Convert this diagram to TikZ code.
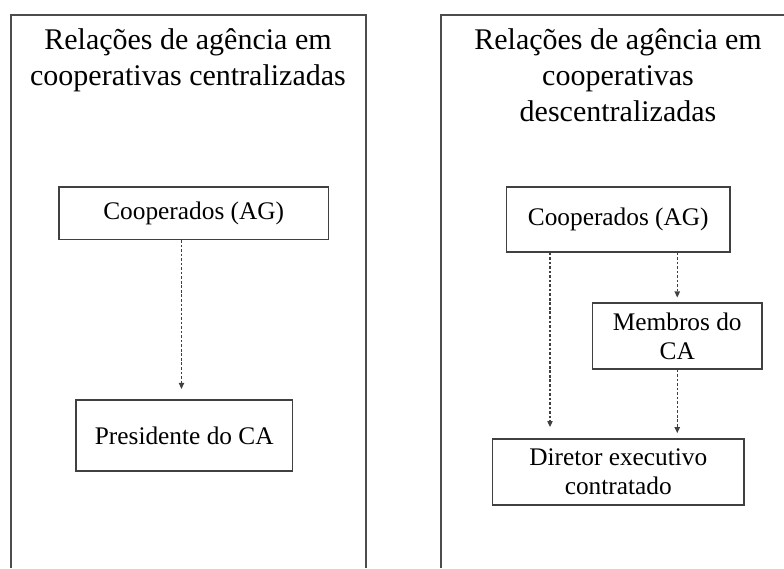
\documentclass[tikz,border=0pt]{standalone}
\usepackage{fontspec}
\setmainfont{Liberation Serif}
\usetikzlibrary{arrows.meta, positioning}

\tikzset{
    panel/.style={draw=black!70, line width=1pt},
    title/.style={anchor=north, inner sep=0pt, align=center,
        font=\fontsize{22.5}{27}\selectfont},
    box/.style={draw=black!75, line width=0.8pt, align=center, inner sep=2pt,
        font=\fontsize{19}{21.75}\selectfont},
    flow/.style={->, draw=black!75, line width=0.8pt, dash pattern=on 2pt off 1.4pt},
}

\begin{document}
\begin{tikzpicture}[x=0.75pt, y=-0.75pt, >={Triangle[length=4.5pt, width=4pt]}]
    \useasboundingbox (0,0) rectangle (784,568);

    % Panels
    \draw[panel] (11,568) -- (11,15) -- (366,15) -- (366,568);
    \draw[panel] (441,568) -- (441,15) -- (784,15);

    % Titles
    \node[title] (TitleL) at (188, 28) {Relações de agência em\\cooperativas centralizadas};
    \node[title] (TitleR) at (618, 28) {Relações de agência em\\cooperativas\\descentralizadas};

    % Nodes
    \node[box, minimum width=202.1pt, minimum height=39.4pt] (CoopL) at (193.75, 213.25) {Cooperados (AG)};
    \node[box, minimum width=162.4pt, minimum height=53.25pt] (PresL) at (184.25, 435.5) {Presidente do CA};

    \node[box, minimum width=167.6pt, minimum height=48.75pt] (CoopR) at (618.25, 219.5) {Cooperados (AG)};
    \node[box, minimum width=127.1pt, minimum height=49.5pt] (MembR) at (677.25, 336) {Membros do\\CA};
    \node[box, minimum width=188.6pt, minimum height=49.5pt] (DirR) at (618.25, 472) {Diretor executivo\\contratado};

    % Paths
    \draw[flow, shorten >=7.9pt] ([xshift=-9.2pt]CoopL.south) -- ([xshift=-9.2pt]CoopL.south |- PresL.north);
    \draw[flow, shorten >=8.6pt] ([xshift=-51.2pt]CoopR.south) -- ([xshift=-51.2pt]CoopR.south |- DirR.north);
    \draw[flow, shorten >=3.75pt] (MembR.north |- CoopR.south) -- (MembR.north);
    \draw[flow, shorten >=4pt] (MembR.south) -- (MembR.south |- DirR.north);
\end{tikzpicture}
\end{document}
